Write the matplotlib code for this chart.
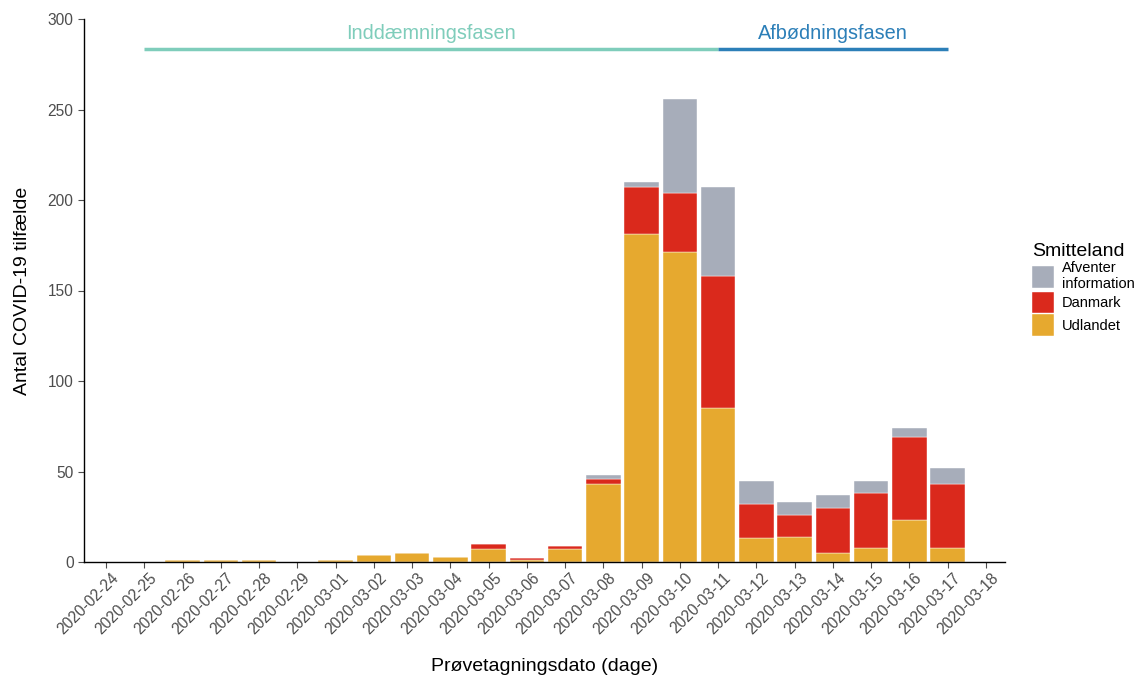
import matplotlib
matplotlib.use("Agg")
import matplotlib.pyplot as plt
import matplotlib.transforms as mtrans
import numpy as np

plt.rcParams['font.family'] = ['Liberation Sans', 'DejaVu Sans']

dates = ["2020-02-24", "2020-02-25", "2020-02-26", "2020-02-27", "2020-02-28",
         "2020-02-29", "2020-03-01", "2020-03-02", "2020-03-03", "2020-03-04",
         "2020-03-05", "2020-03-06", "2020-03-07", "2020-03-08", "2020-03-09",
         "2020-03-10", "2020-03-11", "2020-03-12", "2020-03-13", "2020-03-14",
         "2020-03-15", "2020-03-16", "2020-03-17", "2020-03-18"]
udlandet = [0, 0, 1, 1, 1, 0, 1, 4, 5, 3, 7, 1, 7, 43, 181, 171, 85, 13, 14, 5, 8, 23, 8, 0]
danmark = [0, 0, 0, 0, 0, 0, 0, 0, 0, 0, 3, 1, 2, 3, 26, 33, 73, 19, 12, 25, 30, 46, 35, 0]
afventer = [0, 0, 0, 0, 0, 0, 0, 0, 0, 0, 0, 0, 0, 2, 3, 52, 49, 13, 7, 7, 7, 5, 9, 0]

series_labels = ["Udlandet", "Danmark", "Afventer\ninformation"]
series_colors = ["#E6A92F", "#DA291C", "#A7ADBA"]

phases = ["Inddæmningsfasen", "Afbødningsfasen"]
phase_start = ["2020-02-25", "2020-03-11"]
phase_end = ["2020-03-11", "2020-03-17"]
phase_colors = ["#7FCDBB", "#2C7FB8"]
phase_level = 283.5

fig = plt.figure(figsize=(11.39, 6.78), dpi=100)
ax = fig.add_axes([84/1139, 1-562/678, (1005-84)/1139, (562-19)/678])

x = np.arange(len(dates))
bottom = np.zeros(len(dates))
handles = []
for vals, lab, col in zip([udlandet, danmark, afventer], series_labels, series_colors):
    v = np.array(vals, dtype=float)
    b = ax.bar(x, v, width=0.9, bottom=bottom, color=col, edgecolor="#FFFFFF",
               linewidth=0.3, label=lab)
    handles.append(b)
    bottom += v

for name, s, e, c in zip(phases, phase_start, phase_end, phase_colors):
    xs, xe = dates.index(s), dates.index(e)
    ax.plot([xs, xe], [phase_level, phase_level], color=c, lw=2.5,
            solid_capstyle='butt', clip_on=False)
    ax.text((xs + xe) / 2, 292, name, color=c, ha='center', va='center', fontsize=14.3)

ax.set_xlim(-0.575, 23.5)
ax.set_ylim(0, 300)
ax.set_xticks(x)
ax.set_xticklabels(dates, rotation=45, ha='right', va='top', rotation_mode='anchor')
ax.set_yticks([0, 50, 100, 150, 200, 250, 300])
ax.tick_params(axis='both', colors='#4D4D4D', labelsize=11.2, length=4, width=0.8)
ax.tick_params(axis='x', pad=2)
offset = mtrans.ScaledTranslation(5/100, 0, fig.dpi_scale_trans)
for lbl in ax.get_xticklabels():
    lbl.set_transform(lbl.get_transform() + offset)
for sp in ['top', 'right']:
    ax.spines[sp].set_visible(False)
for sp in ['left', 'bottom']:
    ax.spines[sp].set_linewidth(1.0)
    ax.spines[sp].set_color('black')

ax.set_ylabel("Antal COVID-19 tilfælde", fontsize=14, labelpad=12)
ax.set_xlabel("Prøvetagningsdato (dage)", fontsize=14, labelpad=15)

leg = fig.legend(handles=handles[::-1], labels=series_labels[::-1], title="Smitteland",
                 loc='upper left', bbox_to_anchor=(1022/1139, 1-233/678),
                 frameon=False, fontsize=10.5, title_fontsize=14,
                 handlelength=1.5, handleheight=1.9, handletextpad=0.55,
                 labelspacing=0.05, borderpad=0.2, alignment='left')

fig.savefig("out.png", dpi=100)
